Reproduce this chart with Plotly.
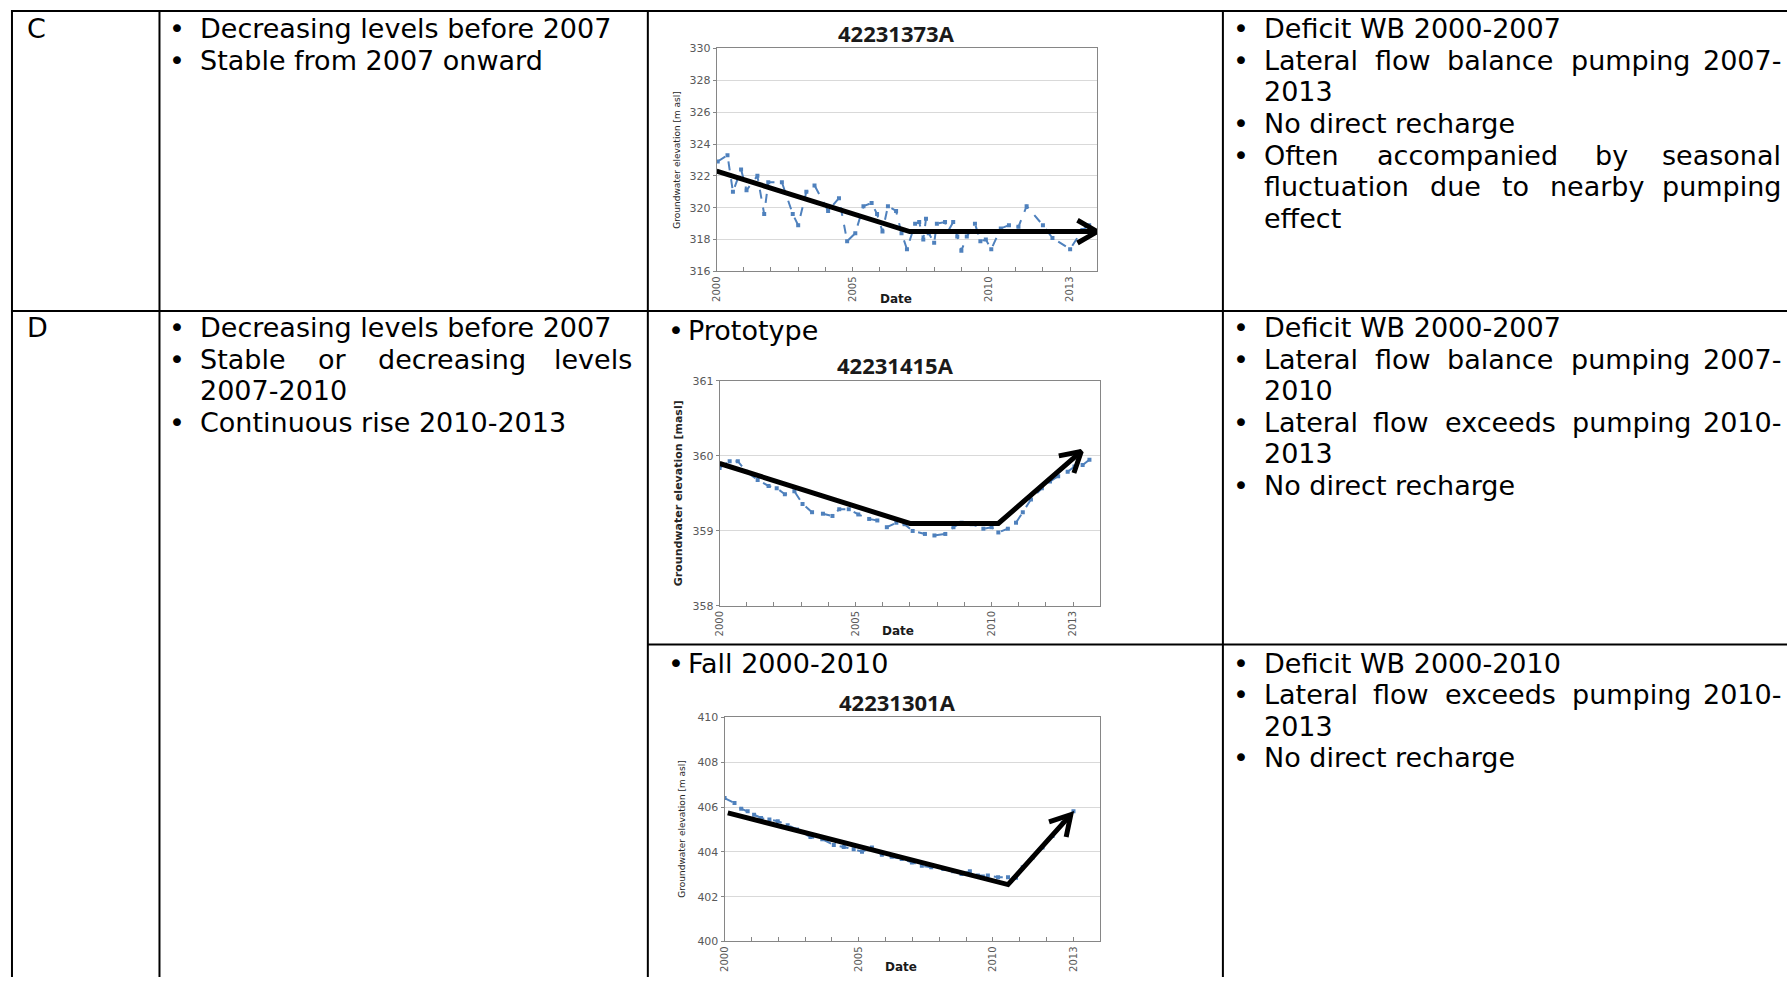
import math
import plotly.graph_objects as go

W, H = 1787, 982

# ---------------- table text ----------------
row_labels = ["C", "D"]
c_pattern = [["Decreasing levels before 2007"], ["Stable from 2007 onward"]]
d_pattern = [["Decreasing levels before 2007"],
             ["Stable or decreasing levels", "2007-2010"],
             ["Continuous rise 2010-2013"]]
c_explain = [["Deficit WB 2000-2007"],
             ["Lateral flow balance pumping 2007-", "2013"],
             ["No direct recharge"],
             ["Often accompanied by seasonal", "fluctuation due to nearby pumping", "effect"]]
d1_explain = [["Deficit WB 2000-2007"],
              ["Lateral flow balance pumping 2007-", "2010"],
              ["Lateral flow exceeds pumping 2010-", "2013"],
              ["No direct recharge"]]
d2_explain = [["Deficit WB 2000-2010"],
              ["Lateral flow exceeds pumping 2010-", "2013"],
              ["No direct recharge"]]
d_subtypes = ["Prototype", "Fall 2000-2010"]

# ---------------- chart text ----------------
well_ids = ["42231373A", "42231415A", "42231301A"]
y_titles = ["Groundwater elevation [m asl]", "Groundwater elevation [masl]", "Groundwater elevation [m asl]"]
x_title = "Date"
x_tick_years = [2000, 2005, 2010, 2013]
x_minor_years = list(range(2000, 2015))

# ---------------- series ----------------
well1_year = [2000.04, 2000.4, 2000.6, 2000.9, 2001.1, 2001.5, 2001.75, 2001.9, 2002.4, 2002.8,
              2003.0, 2003.3, 2003.6, 2004.1, 2004.5, 2004.8, 2005.1, 2005.4, 2005.7, 2005.9,
              2006.1, 2006.3, 2006.6, 2006.8, 2007.0, 2007.3, 2007.45, 2007.6, 2007.7, 2007.8,
              2008.0, 2008.1, 2008.4, 2008.5, 2008.7, 2008.85, 2009.0, 2009.2, 2009.5, 2009.7,
              2009.9, 2010.1, 2010.45, 2010.75, 2011.1, 2011.4, 2012.0, 2012.35, 2013.0, 2013.45, 2013.7]
well1_level = [322.9, 323.3, 321.0, 322.4, 321.1, 322.0, 319.6, 321.6, 321.6, 319.6,
               318.9, 321.0, 321.4, 319.8, 320.6, 317.9, 318.4, 320.1, 320.3, 319.6,
               318.5, 320.1, 319.8, 318.4, 317.4, 319.0, 319.1, 318.0, 319.3, 318.4,
               317.8, 319.0, 319.1, 318.5, 319.1, 318.2, 317.3, 318.2, 319.0, 317.9,
               318.0, 317.4, 318.7, 318.9, 318.8, 320.1, 318.9, 318.1, 317.4, 318.6, 318.9]

well2_year = [2000.0, 2000.37, 2000.67, 2000.98, 2001.4, 2001.8, 2002.1, 2002.4, 2002.75, 2003.05,
              2003.4, 2003.8, 2004.15, 2004.4, 2004.75, 2005.1, 2005.5, 2005.8, 2006.15, 2006.5,
              2006.8, 2007.1, 2007.55, 2007.9, 2008.3, 2008.6, 2008.9, 2009.27, 2009.7, 2010.0,
              2010.25, 2010.6, 2010.9, 2011.15, 2011.45, 2011.85, 2012.15, 2012.45, 2012.8, 2013.05,
              2013.35, 2013.6]
well2_level = [359.84, 359.93, 359.93, 359.79, 359.68, 359.60, 359.57, 359.49, 359.53, 359.36,
               359.25, 359.23, 359.20, 359.29, 359.29, 359.22, 359.16, 359.14, 359.05, 359.11,
               359.09, 359.00, 358.96, 358.94, 358.96, 359.05, 359.11, 359.09, 359.03, 359.05,
               358.98, 359.03, 359.11, 359.25, 359.42, 359.57, 359.66, 359.73, 359.79, 359.86,
               359.88, 359.95]

well3_year = [2000.0, 2000.37, 2000.62, 2000.86, 2001.1, 2001.36, 2001.67, 2001.98, 2002.35, 2002.7,
              2003.2, 2003.64, 2004.07, 2004.44, 2004.81, 2005.12, 2005.49, 2005.86, 2006.23, 2006.6,
              2006.98, 2007.35, 2007.7, 2008.15, 2008.52, 2008.83, 2009.14, 2009.44, 2009.81, 2010.19,
              2010.56, 2010.86, 2011.11, 2011.48, 2011.85, 2012.22, 2012.6, 2013.0]
well3_level = [406.40, 406.18, 405.93, 405.81, 405.66, 405.51, 405.44, 405.37, 405.19, 405.00,
               404.66, 404.56, 404.31, 404.22, 404.12, 404.01, 404.19, 403.87, 403.78, 403.68,
               403.53, 403.38, 403.31, 403.24, 403.13, 403.01, 403.13, 402.94, 402.94, 402.87,
               402.87, 402.84, 403.31, 403.75, 404.19, 404.71, 405.29, 405.81]

# hand-drawn trend arrows
trend1_year = [2000.0, 2007.1, 2014.0]
trend1_level = [322.3, 318.5, 318.5]
trend2_year = [2000.0, 2007.0, 2010.25, 2013.3]
trend2_level = [359.9, 359.1, 359.1, 360.06]
trend3_year = [2000.12, 2010.56, 2012.9]
trend3_level = [405.74, 402.54, 405.66]

x_ranges = [[2000, 2014], [2000, 2014], [2000, 2014]]
y_ranges = [[316, 330], [358, 361], [400, 410]]
y_dticks = [2, 1, 2]

# ---------------- layout geometry (pixels) ----------------
plot_boxes = [(713, 43, 1095, 269), (716, 380, 1098, 608), (721, 721, 1098, 948)]
title_pos = [(893, 27), (892, 364), (895, 705)]
ytitle_pos = [(673, 156), (675, 494), (678, 834)]
date_pos = [(893, 297), (895, 633), (898, 974)]

TEXT_FONT = "DejaVu Sans"
FS = 27
SERIES_COLOR = "#4F81BD"

WIDTHS = {' ': 651, '-': 739, 'a': 1255, 'b': 1300, 'c': 1126, 'd': 1300, 'e': 1260, 'f': 721,
          'g': 1300, 'h': 1298, 'i': 569, 'j': 569, 'k': 1186, 'l': 569, 'm': 1995, 'n': 1298,
          'o': 1253, 'p': 1300, 'q': 1300, 'r': 842, 's': 1067, 't': 803, 'u': 1298, 'v': 1212,
          'w': 1675, 'x': 1212, 'y': 1212, 'z': 1075, 'L': 1141, 'O': 1612, 'S': 1300, 'D': 1577,
          'C': 1430, 'W': 2025, 'B': 1405, 'N': 1532, 'F': 1178, 'P': 1235}


def text_w(s, size):
    return sum(WIDTHS.get(ch, 1303) for ch in s) / 2048.0 * size


def px(x):
    return x / W


def py(y):
    return 1 - y / H


annotations = []


def ann(x, y, text, size=FS, xanchor="left", bold=False, color="black", family=TEXT_FONT,
        angle=0):
    annotations.append(dict(
        x=px(x), y=py(y), xref="paper", yref="paper", text=("<b>%s</b>" % text) if bold else text,
        showarrow=False, xanchor=xanchor, yanchor="middle", textangle=angle,
        font=dict(family=family, size=size, color=color)))


def paragraphs(paras, line_x, y0, right, spacing=32):
    bullet_x = line_x + 18
    text_x = line_x + 39
    y = y0
    for para in paras:
        for i, line in enumerate(para):
            if i == 0:
                ann(bullet_x, y, "•", xanchor="center")
            justified = i < len(para) - 1
            words = line.split(" ")
            if justified and len(words) > 1:
                total = sum(text_w(w, FS) for w in words)
                gap = (right - text_x - total) / (len(words) - 1)
                xx = text_x
                for j, w in enumerate(words):
                    if j == len(words) - 1:
                        ann(right, y, w, xanchor="right")
                    else:
                        ann(xx, y, w)
                    xx += text_w(w, FS) + gap
            else:
                ann(text_x, y, line)
            y += spacing


# ---------------- table grid ----------------
col_lines = [6, 154, 644, 1221]
top_y, row_y, inner_y = 5, 309, 647
shapes = []
lw = 2
for cx in col_lines:
    shapes.append(dict(type="line", xref="paper", yref="paper", x0=px(cx), x1=px(cx),
                       y0=py(top_y - 1), y1=py(H + 2), line=dict(color="black", width=lw)))
for (yy, xa) in [(top_y, 5), (row_y, 5), (inner_y, 644)]:
    shapes.append(dict(type="line", xref="paper", yref="paper", x0=px(xa), x1=px(W + 2),
                       y0=py(yy), y1=py(yy), line=dict(color="black", width=lw)))

# row labels
ann(19, 23, row_labels[0])
ann(19, 326, row_labels[1])

# column 1 patterns
paragraphs(c_pattern, col_lines[1], 23, 630)
paragraphs(d_pattern, col_lines[1], 326, 630)

# column 3 explanations
paragraphs(c_explain, col_lines[3], 23, 1783)
paragraphs(d1_explain, col_lines[3], 326, 1783)
paragraphs(d2_explain, col_lines[3], 666, 1783)

# column 2 subtype labels
for sub, yy in zip(d_subtypes, [329, 666]):
    ann(672, yy, "•", xanchor="center")
    ann(682, yy, sub)

# ---------------- charts ----------------
fig = go.Figure()

series = [(well1_year, well1_level), (well2_year, well2_level), (well3_year, well3_level)]
trends = [(trend1_year, trend1_level), (trend2_year, trend2_level), (trend3_year, trend3_level)]


def chevron(xs, ys, box, xr, yr, L=23, ang=30):
    sx = (box[2] - box[0]) / (xr[1] - xr[0])
    sy = (box[3] - box[1]) / (yr[1] - yr[0])
    dx = (xs[-1] - xs[-2]) * sx
    dy = (ys[-1] - ys[-2]) * sy
    n = math.hypot(dx, dy)
    ux, uy = dx / n, dy / n
    out_x, out_y = [], []
    for s in (1, -1):
        t = math.radians(180 + s * ang)
        rx = ux * math.cos(t) - uy * math.sin(t)
        ry = ux * math.sin(t) + uy * math.cos(t)
        out_x.append(xs[-1] + L * rx / sx)
        out_y.append(ys[-1] + L * ry / sy)
    return [out_x[0], xs[-1], out_x[1]], [out_y[0], ys[-1], out_y[1]]


layout_axes = {}
for k in range(3):
    box = plot_boxes[k]
    xa = "x" if k == 0 else "x%d" % (k + 1)
    ya = "y" if k == 0 else "y%d" % (k + 1)
    xs, ys = series[k]
    fig.add_trace(go.Scatter(x=xs, y=ys, mode="lines+markers", xaxis=xa, yaxis=ya,
                             line=dict(color=SERIES_COLOR, width=2, dash="dash"),
                             marker=dict(symbol="square", size=4, color=SERIES_COLOR),
                             showlegend=False, hoverinfo="skip"))
    tx, ty = trends[k]
    fig.add_trace(go.Scatter(x=tx, y=ty, mode="lines", xaxis=xa, yaxis=ya, cliponaxis=False,
                             line=dict(color="black", width=5), showlegend=False, hoverinfo="skip"))
    cx, cy = chevron(tx, ty, box, x_ranges[k], y_ranges[k])
    fig.add_trace(go.Scatter(x=cx, y=cy, mode="lines", xaxis=xa, yaxis=ya, cliponaxis=False,
                             line=dict(color="black", width=5), showlegend=False, hoverinfo="skip"))

    xname = "xaxis" if k == 0 else "xaxis%d" % (k + 1)
    yname = "yaxis" if k == 0 else "yaxis%d" % (k + 1)
    layout_axes[xname] = dict(
        domain=[px(box[0]), px(box[2])], anchor=ya, range=x_ranges[k],
        tickmode="array", tickvals=x_tick_years, ticktext=[str(v) for v in x_tick_years],
        tickangle=-90, ticks="inside", ticklen=4, tickcolor="#868686",
        minor=dict(tickmode="array", tickvals=x_minor_years, ticks="inside", ticklen=4,
                   tickcolor="#868686"),
        showline=True, linecolor="#868686", linewidth=1, mirror=True,
        showgrid=False, zeroline=False,
        tickfont=dict(family=TEXT_FONT, size=10, color="#595959"), fixedrange=True)
    layout_axes[yname] = dict(
        domain=[py(box[3]), py(box[1])], anchor=xa, range=y_ranges[k],
        dtick=y_dticks[k], tick0=y_ranges[k][0], ticks="outside", ticklen=3, tickcolor="#868686",
        showline=True, linecolor="#868686", linewidth=1, mirror=True,
        showgrid=True, gridcolor="#D9D9D9", gridwidth=1, zeroline=False,
        tickfont=dict(family=TEXT_FONT, size=11, color="#595959"), fixedrange=True)

    tx0, ty0 = title_pos[k]
    ann(tx0, ty0, well_ids[k], size=22, xanchor="center", bold=True, color="#1a1a1a",
        family="Open Sans")
    ax0, ay0 = ytitle_pos[k]
    ann(ax0, ay0, y_titles[k], size=11 if k == 1 else 9, xanchor="center", bold=(k == 1),
        color="#262626", angle=-90)
    dx0, dy0 = date_pos[k]
    ann(dx0, dy0, x_title, size=12, xanchor="center", bold=True, color="#1a1a1a")

fig.update_layout(
    width=W, height=H, autosize=False,
    margin=dict(l=0, r=0, t=0, b=0, pad=0),
    paper_bgcolor="white", plot_bgcolor="white",
    shapes=shapes, annotations=annotations, showlegend=False,
    **layout_axes)

fig.write_html("out.html", config={"displayModeBar": False, "staticPlot": True},
               post_script="document.body.style.margin='0';document.body.style.overflow='hidden';")
